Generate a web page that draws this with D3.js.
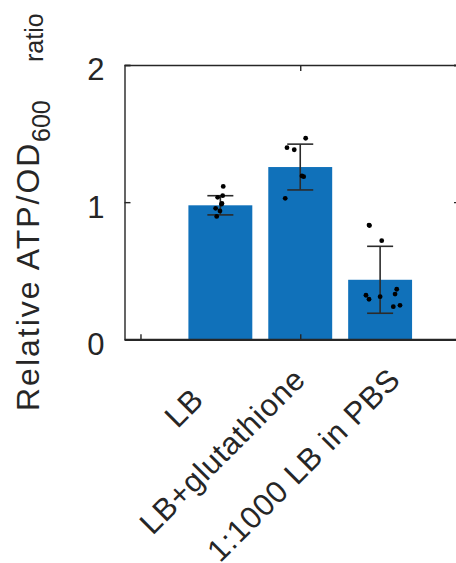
<!DOCTYPE html>
<html>
<head>
<meta charset="utf-8">
<script src="https://cdn.jsdelivr.net/npm/d3@7"></script>
<style>
  body { margin: 0; background: #fff; }
  text { font-family: "Liberation Sans", Arial, sans-serif; fill: #262626; }
</style>
</head>
<body>
<svg id="chart" width="456" height="563"></svg>
<script>
// data
const conditions = ['LB', 'LB+glutathione', '1:1000 LB in PBS']
const means = [0.977, 1.256, 0.434]
const sds = [0.07, 0.167, 0.244]
const replicateValues = [
  [1.115, 1.047, 1.035, 0.991, 0.985, 0.955, 0.936, 0.896],
  [1.466, 1.397, 1.382, 1.191, 1.186, 1.028],
  [0.833, 0.829, 0.719, 0.321, 0.292, 0.311, 0.365, 0.33, 0.238, 0.248]
]
// horizontal jitter of each replicate, in category units
const replicateJitter = [
  [0.036, 0.029, -0.034, 0.02, 0.014, -0.059, -0.005, -0.046],
  [0.068, -0.166, -0.075, 0.021, 0.043, -0.188],
  [-0.139, -0.133, 0.02, -0.177, -0.139, 0, 0.208, 0.187, 0.165, 0.249]
]
const yTicks = [0, 1, 2]

const svg = d3.select('#chart')
const axisColor = '#262626'

const x = d3.scaleLinear().domain([-0.2, 4]).range([124.5, 460])
const y = d3.scaleLinear().domain([0, 2]).range([339.3, 65])
const barW = x(0.8) - x(0)

// bars
svg.append('g').selectAll('rect')
  .data(means)
  .enter()
  .append('rect')
  .attr('x', (d, i) => x(i + 1) - barW / 2)
  .attr('y', d => y(d))
  .attr('width', barW)
  .attr('height', d => y(0) - y(d))
  .attr('fill', '#1071BA')

// error bars
const errG = svg.append('g')
  .attr('stroke', '#2b2b2b')
  .attr('stroke-width', 1.6)
means.forEach((m, i) => {
  const cx = x(i + 1)
  const lo = y(m - sds[i]), hi = y(m + sds[i])
  errG.append('line').attr('x1', cx).attr('x2', cx).attr('y1', lo).attr('y2', hi)
  errG.append('line').attr('x1', cx - 13).attr('x2', cx + 13).attr('y1', lo).attr('y2', lo)
  errG.append('line').attr('x1', cx - 13).attr('x2', cx + 13).attr('y1', hi).attr('y2', hi)
})

// replicate points
const pts = []
replicateValues.forEach((vals, i) => {
  vals.forEach((v, j) => pts.push({ c: i + 1 + replicateJitter[i][j], v: v }))
})
svg.append('g').selectAll('circle')
  .data(pts)
  .enter()
  .append('circle')
  .attr('cx', d => x(d.c))
  .attr('cy', d => y(d.v))
  .attr('r', 2.4)
  .attr('fill', '#000')

// axes box
const leftAxis = d3.axisLeft(y).tickValues(yTicks).tickSize(-6).tickPadding(20).tickFormat(d3.format('d'))
const lg = svg.append('g').attr('transform', `translate(${x.range()[0]},0)`).call(leftAxis)
lg.selectAll('text')
  .attr('dy', '0.48em')
  .style('font-size', '31px')
  .style('font-family', '"Liberation Sans", Arial, sans-serif')
  .style('fill', '#262626')

const rg = svg.append('g').attr('transform', `translate(${x.range()[1]},0)`)
  .call(d3.axisRight(y).tickValues(yTicks).tickSize(-6).tickFormat(''))
const bg = svg.append('g').attr('transform', `translate(0,${y(0)})`)
  .call(d3.axisBottom(x).tickValues([0, 2, 4]).tickSize(-5).tickSizeOuter(0).tickFormat(''))
const tg = svg.append('g').attr('transform', `translate(0,${y(2)})`)
  .call(d3.axisTop(x).tickValues([2, 4]).tickSize(-6).tickSizeOuter(0).tickFormat(''))

;[lg, rg, tg].forEach(g => {
  g.select('.domain').attr('stroke', axisColor).attr('stroke-width', 1.4)
  g.selectAll('.tick line').attr('stroke', axisColor).attr('stroke-width', 1.4)
})
bg.select('.domain').attr('stroke', axisColor).attr('stroke-width', 2.2)
bg.selectAll('.tick line').attr('stroke', axisColor).attr('stroke-width', 1.4)

// category labels, rotated 45 degrees
const labelShift = [[-15, 62], [7, 42], [22, 42]]
svg.append('g').selectAll('text')
  .data(conditions)
  .enter()
  .append('text')
  .attr('transform', (d, i) => `translate(${x(i + 1) + labelShift[i][0]},${y(0) + labelShift[i][1]}) rotate(-45)`)
  .attr('text-anchor', 'end')
  .style('font-size', '31px')
  .style('letter-spacing', '0.8px')
  .text(d => d)

// y label: main text, subscript, then the smaller "ratio"
const ylab = svg.append('g').attr('transform', 'rotate(-90)')
ylab.append('text').attr('x', -411).attr('y', 39)
  .style('font-size', '32px').style('letter-spacing', '2px')
  .text('Relative ATP/OD')
ylab.append('text').attr('x', -142).attr('y', 50)
  .style('font-size', '25px')
  .text('600')
ylab.append('text').attr('x', -62).attr('y', 43)
  .style('font-size', '25px')
  .text('ratio')
</script>
</body>
</html>
